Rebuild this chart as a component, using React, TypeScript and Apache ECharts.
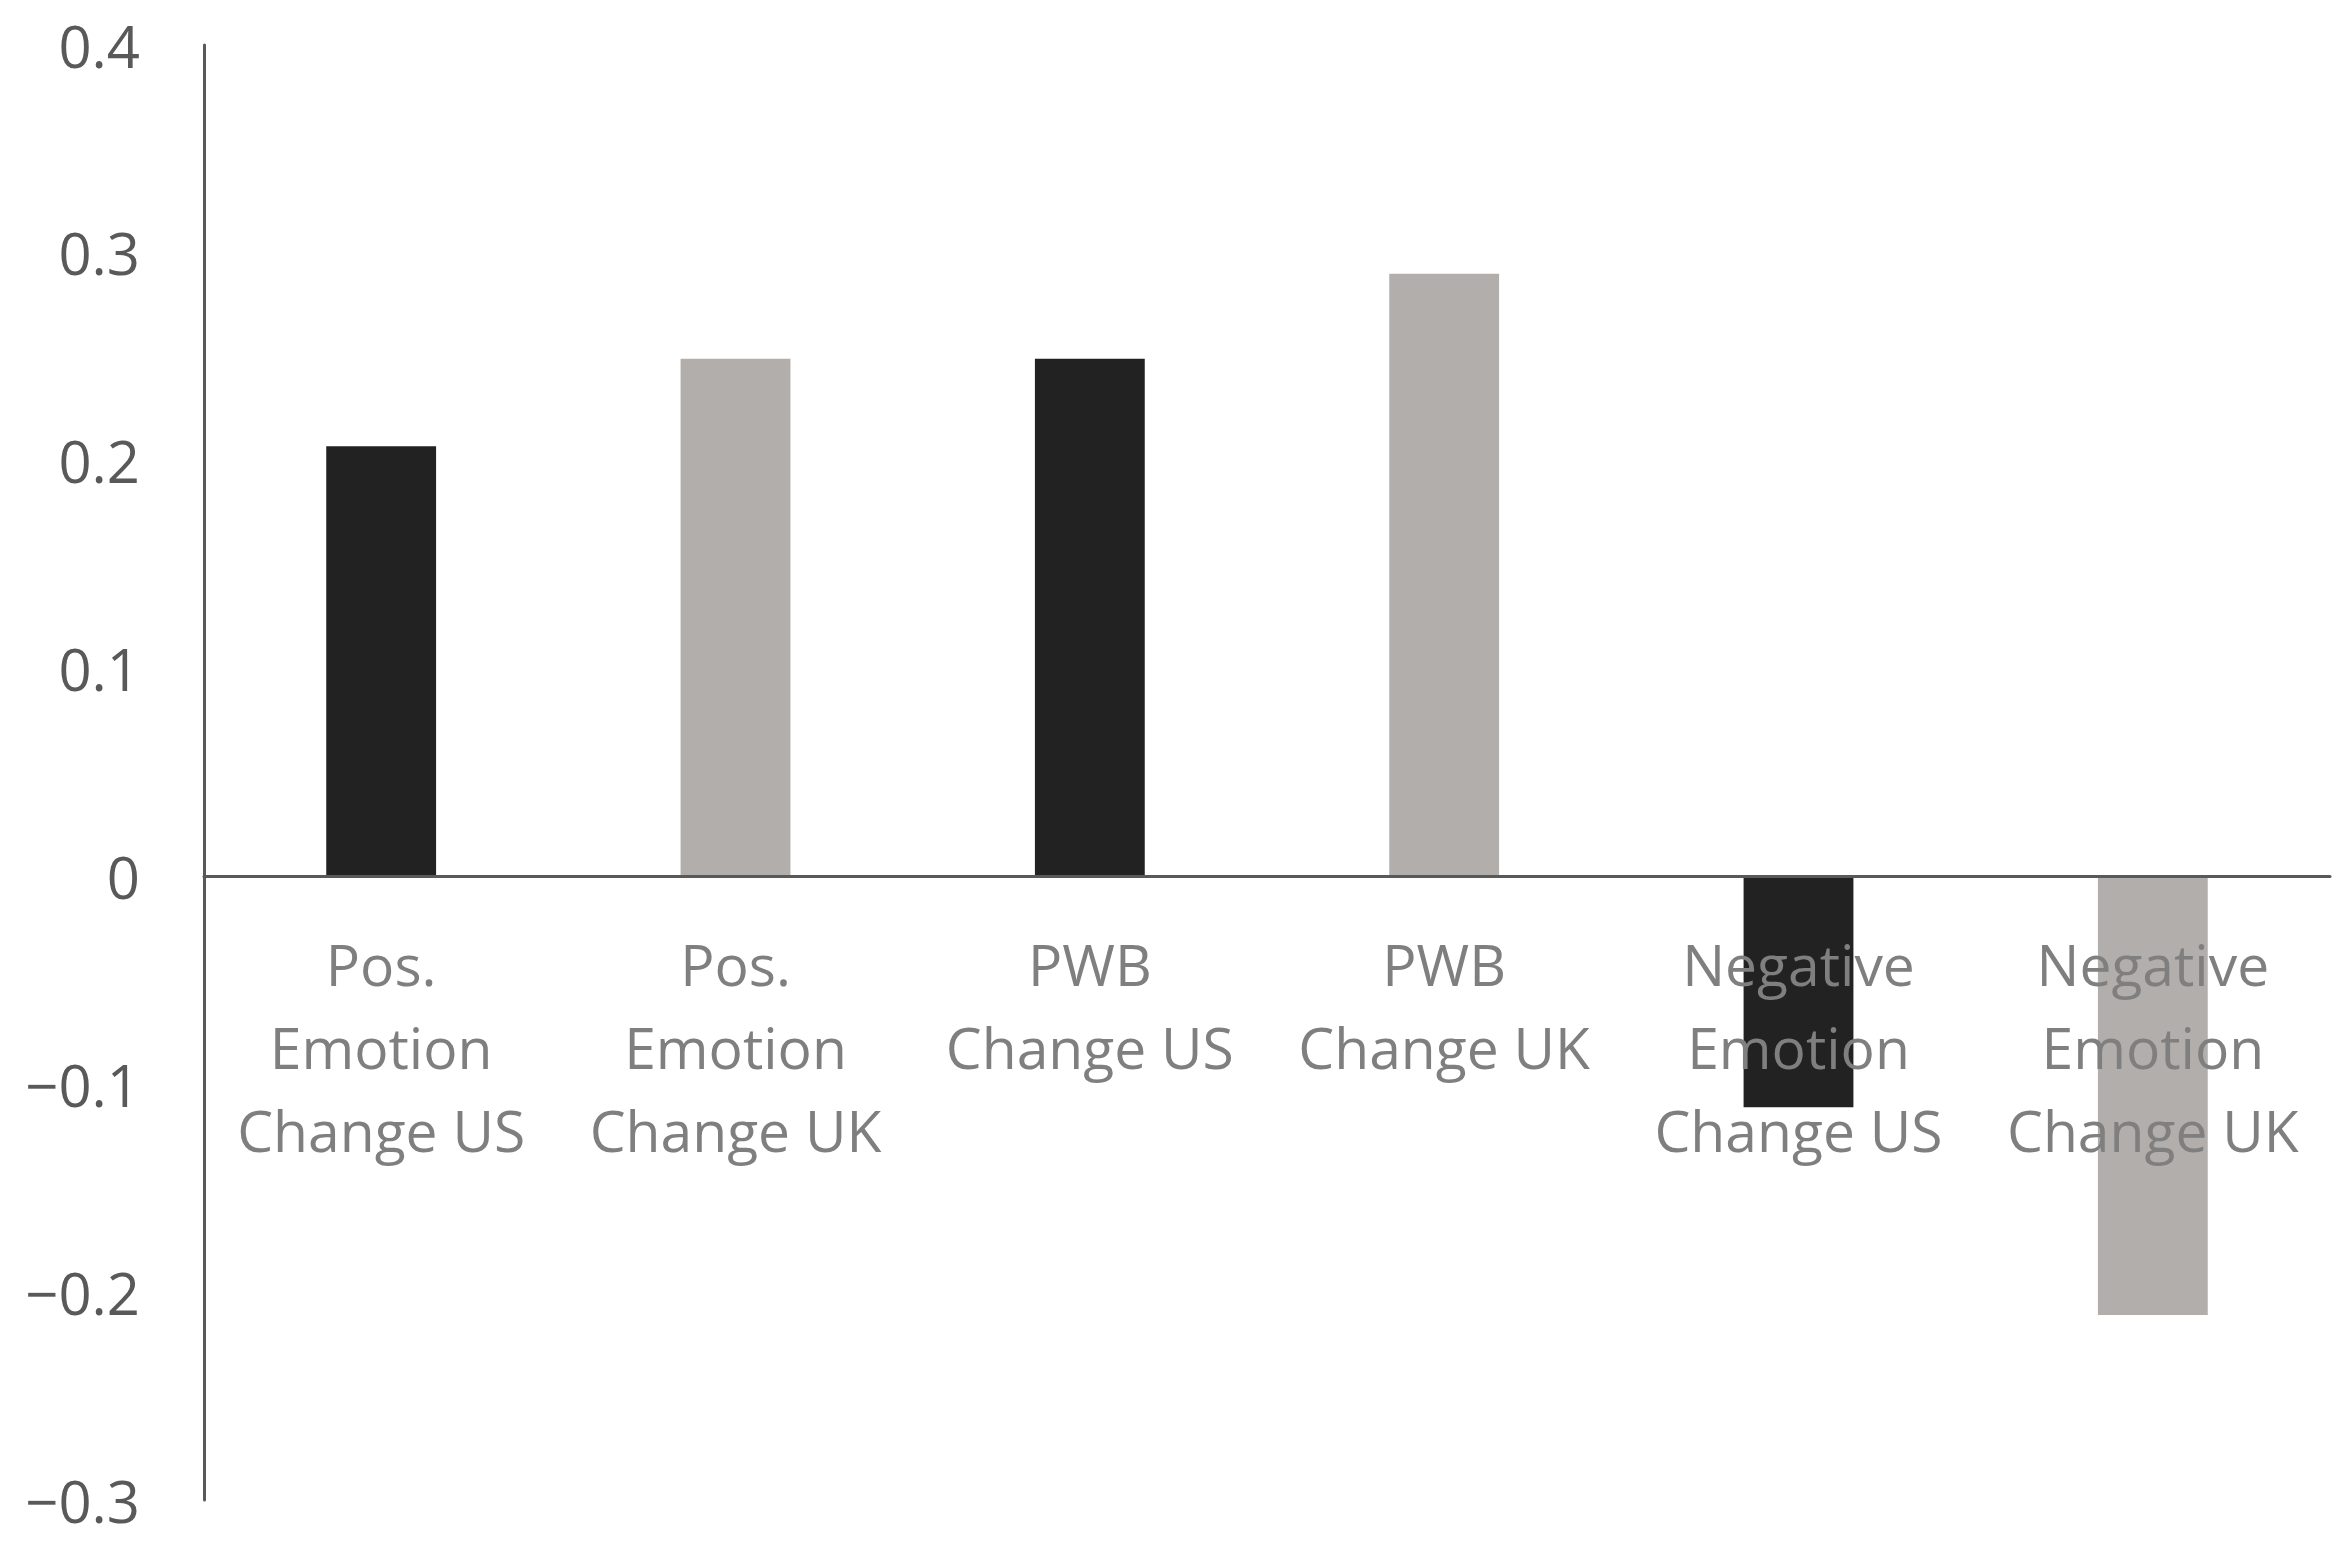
import React, { useEffect, useRef } from "react";
import * as echarts from "echarts";

const categories = [
  "Pos.\nEmotion\nChange US",
  "Pos.\nEmotion\nChange UK",
  "PWB\nChange US",
  "PWB\nChange UK",
  "Negative\nEmotion\nChange US",
  "Negative\nEmotion\nChange UK",
];
const values = [0.207, 0.249, 0.249, 0.29, -0.111, -0.211];
const barColors = ["#222222", "#b2aeab", "#222222", "#b2aeab", "#222222", "#b2aeab"];
const yMin = -0.3;
const yMax = 0.4;
const yInterval = 0.1;

const GRID_TOP = 45;
const GRID_BOTTOM = 41;
const HEIGHT = 1541;

export default function App() {
  const ref = useRef<HTMLDivElement>(null);
  useEffect(() => {
    if (!ref.current) return;
    const chart = echarts.init(ref.current, undefined, { renderer: "svg" });
    const gridH = HEIGHT - GRID_TOP - GRID_BOTTOM;
    const zeroFromBottom = (gridH * (0 - yMin)) / (yMax - yMin);
    chart.setOption({
      animation: false,
      backgroundColor: "#ffffff",
      grid: { left: 204, right: 16, top: GRID_TOP, bottom: GRID_BOTTOM, containLabel: false, outerBoundsMode: "none" },
      xAxis: {
        type: "category",
        data: categories,
        z: 10,
        position: "bottom",
        offset: -zeroFromBottom,
        axisLine: { show: true, onZero: false, lineStyle: { color: "#595959", width: 3 } },
        axisTick: { show: false },
        axisLabel: {
          color: "#7f7f7f",
          fontFamily: "Open Sans",
          fontSize: 57,
          lineHeight: 83,
          margin: 46,
          interval: 0,
        },
        splitLine: { show: false },
      },
      yAxis: {
        type: "value",
        min: yMin,
        max: yMax,
        interval: yInterval,
        axisLine: { show: true, lineStyle: { color: "#595959", width: 3 } },
        axisTick: { show: false },
        splitLine: { show: false },
        axisLabel: {
          color: "#595959",
          fontFamily: "Open Sans",
          fontSize: 58,
          margin: 64,
          padding: [0, 0, 10, 0],
          formatter: (v: number) => (Math.abs(v) < 1e-9 ? "0" : v.toFixed(1).replace("-", "\u2212")),
        },
      },
      series: [
        {
          type: "bar",
          barWidth: "31%",
          data: values.map((v, i) => ({ value: v, itemStyle: { color: barColors[i] } })),
        },
      ],
    });
    return () => chart.dispose();
  }, []);
  return (
    <div
      ref={ref}
      style={{ position: "fixed", left: 0, top: 0, width: 2346, height: HEIGHT, background: "#fff" }}
    />
  );
}
